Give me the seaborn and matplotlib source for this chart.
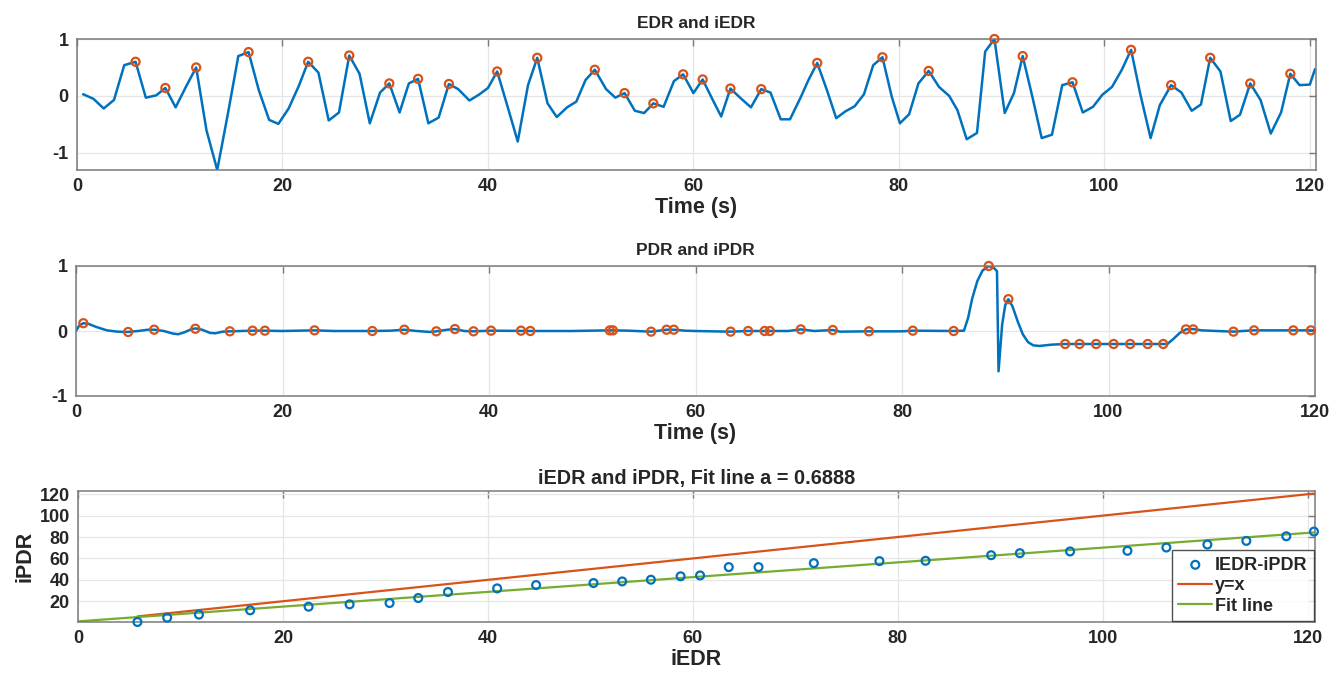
import numpy as np
import matplotlib
matplotlib.use('Agg')
import matplotlib.pyplot as plt
import seaborn as sns

# ============ DATA ============
edr_t = [0.6, 1.6, 2.6, 3.6, 4.6, 5.7, 6.7, 7.7, 8.6, 9.6, 10.6, 11.6, 12.6, 13.65, 14.7,
         15.7, 16.7, 17.7, 18.7, 19.6, 20.6, 21.6, 22.5, 23.5, 24.5, 25.5, 26.5, 27.5, 28.5,
         29.5, 30.4, 31.4, 32.3, 33.2, 34.2, 35.2, 36.2, 37.1, 38.2, 39.1, 40.0, 40.9, 41.9,
         42.9, 43.9, 44.8, 45.8, 46.7, 47.7, 48.6, 49.5, 50.4, 51.5, 52.4, 53.3, 54.3, 55.2,
         56.1, 57.1, 58.1, 59.0, 60.0, 60.9, 61.8, 62.7, 63.6, 64.6, 65.6, 66.6, 67.5, 68.5,
         69.4, 70.4, 71.2, 72.05, 73.0, 73.9, 74.8, 75.7, 76.6, 77.5, 78.4, 79.3, 80.1, 81.0,
         81.9, 82.9, 83.9, 84.9, 85.7, 86.6, 87.6, 88.4, 89.3, 90.3, 91.2, 92.05, 93.0, 93.9,
         94.9, 95.9, 96.9, 97.9, 98.9, 99.8, 100.75, 101.7, 102.6, 103.5, 104.5, 105.4, 106.5,
         107.5, 108.5, 109.4, 110.3, 111.3, 112.3, 113.2, 114.2, 115.2, 116.2, 117.2, 118.1,
         119.0, 120.0, 120.5]
edr_v = [0.03, -0.05, -0.22, -0.07, 0.54, 0.60, -0.03, 0.01, 0.14, -0.20, 0.16, 0.50, -0.60,
         -1.30, -0.30, 0.70, 0.77, 0.10, -0.42, -0.49, -0.22, 0.18, 0.60, 0.41, -0.43, -0.29,
         0.71, 0.39, -0.48, 0.06, 0.22, -0.29, 0.22, 0.30, -0.48, -0.38, 0.21, 0.12, -0.08,
         0.02, 0.14, 0.43, -0.18, -0.80, 0.19, 0.67, -0.13, -0.37, -0.20, -0.10, 0.28, 0.46,
         0.12, -0.03, 0.05, -0.26, -0.30, -0.13, -0.19, 0.26, 0.38, 0.05, 0.29, -0.04, -0.36,
         0.13, -0.04, -0.20, 0.12, 0.06, -0.41, -0.41, -0.04, 0.28, 0.58, 0.10, -0.39, -0.27,
         -0.18, 0.03, 0.54, 0.68, -0.01, -0.48, -0.32, 0.22, 0.44, 0.16, 0.00, -0.25, -0.76,
         -0.65, 0.78, 1.00, -0.30, 0.05, 0.70, -0.02, -0.74, -0.68, 0.19, 0.24, -0.29, -0.19,
         0.02, 0.16, 0.46, 0.81, 0.03, -0.74, -0.16, 0.19, 0.06, -0.26, -0.15, 0.67, 0.43,
         -0.44, -0.33, 0.22, -0.07, -0.66, -0.29, 0.39, 0.19, 0.20, 0.47]

edr_peak_t = [5.7, 8.6, 11.6, 16.7, 22.5, 26.5, 30.4, 33.2, 36.2, 40.9, 44.8, 50.4, 53.3, 56.1,
              59.0, 60.9, 63.6, 66.6, 72.05, 78.4, 82.9, 89.3, 92.05, 96.9, 102.6, 106.5,
              110.3, 114.2, 118.1]
edr_peak_v = [0.60, 0.14, 0.50, 0.77, 0.60, 0.71, 0.22, 0.30, 0.21, 0.43, 0.67, 0.46, 0.05,
              -0.13, 0.38, 0.29, 0.13, 0.12, 0.58, 0.68, 0.44, 1.00, 0.70, 0.24, 0.81, 0.19,
              0.67, 0.22, 0.39]

pdr_t = [0.0, 0.3, 0.7, 1.2, 2.0, 3.0, 4.0, 5.0, 6.0, 7.0, 7.6, 8.5, 9.4, 9.9, 10.5, 11.2,
         11.6, 12.2, 13.0, 13.5, 14.2, 15.0, 16.0, 17.1, 18.3, 20.0, 23.1, 25.0, 28.7, 30.5,
         31.8, 33.0, 34.3, 34.9, 36.0, 36.7, 37.6, 38.5, 40.2, 44.0, 48.0, 51.7, 52.0, 53.5,
         55.7, 57.2, 57.9, 59.0, 60.0, 63.4, 65.1, 67.2, 69.0, 70.2, 71.5, 73.3, 74.0, 76.8,
         80.0, 81.05, 85.0, 86.0, 86.4, 86.8, 87.3, 87.8, 88.4, 88.9, 89.2, 89.35, 89.7, 90.0,
         90.3, 90.7, 91.2, 91.7, 92.2, 92.7, 93.3, 94.5, 95.8, 105.7, 106.3, 106.9, 107.5,
         108.2, 109.0, 110.5, 112.1, 113.0, 114.1, 117.9, 120.0]
pdr_v = [0.0, 0.08, 0.12, 0.11, 0.06, 0.01, -0.01, -0.015, 0.0, 0.02, 0.02, 0.0, -0.04, -0.05,
         -0.02, 0.03, 0.04, 0.02, -0.03, -0.035, -0.01, -0.005, 0.0, 0.005, 0.005, 0.0, 0.01,
         0.0, 0.0, 0.005, 0.02, 0.0, -0.015, -0.005, 0.02, 0.03, 0.0, -0.005, 0.005, 0.0, 0.0,
         0.01, 0.01, 0.005, -0.01, 0.02, 0.02, 0.005, 0.0, -0.01, 0.0, 0.0, 0.0, 0.025, 0.0,
         0.015, -0.01, -0.005, -0.005, 0.005, 0.0, 0.005, 0.2, 0.5, 0.77, 0.93, 1.0, 0.97,
         0.92, -0.62, 0.1, 0.4, 0.49, 0.38, 0.15, -0.05, -0.17, -0.22, -0.23, -0.21, -0.2,
         -0.2, -0.12, -0.03, 0.025, 0.03, 0.01, 0.0, -0.01, 0.0, 0.01, 0.01, 0.01]

pdr_peak_t = [0.71, 5.05, 7.57, 11.56, 14.9, 17.1, 18.3, 23.1, 28.7, 31.8, 34.9, 36.7, 38.5,
              40.2, 43.1, 44.0, 51.7, 52.0, 55.7, 57.2, 57.9, 63.4, 65.1, 66.7, 67.2, 70.2,
              73.3, 76.8, 81.05, 85.0, 88.4, 90.3, 95.8, 97.2, 98.8, 100.5, 102.1, 103.8,
              105.3, 107.5, 108.2, 112.1, 114.1, 117.9, 119.6]
pdr_peak_v = [0.12, -0.015, 0.02, 0.035, -0.005, 0.005, 0.005, 0.01, 0.0, 0.02, -0.005, 0.03,
              -0.005, 0.005, 0.005, 0.0, 0.01, 0.01, -0.01, 0.02, 0.02, -0.01, 0.0, 0.0, 0.0,
              0.025, 0.015, -0.005, 0.005, 0.0, 1.0, 0.49, -0.2, -0.2, -0.2, -0.2, -0.2, -0.2,
              -0.2, 0.025, 0.025, -0.01, 0.01, 0.01, 0.01]

iedr = [5.8, 8.7, 11.8, 16.8, 22.5, 26.5, 30.4, 33.2, 36.1, 40.9, 44.7, 50.3, 53.1, 55.9, 58.8,
        60.7, 63.5, 66.4, 71.8, 78.2, 82.7, 89.1, 91.9, 96.8, 102.4, 106.2, 110.2, 114.0,
        117.9, 120.6]
ipdr = [0.6, 4.7, 7.5, 11.5, 14.9, 17.1, 18.3, 23.0, 28.6, 32.0, 35.1, 37.0, 38.5, 40.1, 43.3,
        44.1, 51.9, 51.9, 55.6, 57.5, 57.8, 63.0, 64.9, 66.5, 67.1, 70.2, 73.0, 76.4, 80.7, 85.1]

fit_a = 0.6888
fit_b = 1.2

# =============== PLOT ====================
sns.set_theme(style='white')
plt.rcParams['font.family'] = ['Liberation Sans', 'DejaVu Sans']
plt.rcParams['font.weight'] = 'bold'
plt.rcParams['axes.unicode_minus'] = False

BLUE = '#0072BD'
ORANGE = '#D95319'
GREEN = '#77AC30'
TXT = '#262626'

W, H = 1334, 678
fig = plt.figure(figsize=(W / 100, H / 100), dpi=100)
ax1 = fig.add_axes([77 / W, 1 - 170 / H, (1316 - 77) / W, 131 / H])
ax2 = fig.add_axes([76 / W, 1 - 396 / H, (1315 - 76) / W, 130 / H])
ax3 = fig.add_axes([78 / W, 1 - 622 / H, (1315 - 78) / W, 131 / H])


def style_axes(ax):
    ax.grid(True, color='#e6e6e6', linewidth=0.9)
    ax.set_axisbelow(True)
    for s in ax.spines.values():
        s.set_color('#7a7a7a')
        s.set_linewidth(1.1)
    ax.tick_params(direction='in', length=5, width=1, colors='#7a7a7a',
                   labelcolor=TXT, labelsize=13, top=True, right=True, pad=6)
    for lab in ax.get_xticklabels() + ax.get_yticklabels():
        lab.set_fontweight('bold')


# EDR
sns.lineplot(x=edr_t, y=edr_v, ax=ax1, color=BLUE, linewidth=1.8, sort=False)
sns.scatterplot(x=edr_peak_t, y=edr_peak_v, ax=ax1, marker='o', s=34, facecolor='none',
                edgecolor=ORANGE, linewidth=1.6, zorder=3, clip_on=False)
ax1.set_xlim(0, 120.6)
ax1.set_ylim(-1.3, 1)
ax1.set_xticks(np.arange(0, 121, 20))
ax1.set_yticks([-1, 0, 1])
ax1.set_title('EDR and iEDR', fontsize=12.5, fontweight='bold', color=TXT, pad=8)
ax1.set_xlabel('Time (s)', fontsize=15.5, fontweight='bold', color=TXT, labelpad=1)
ax1.set_ylabel('')

# PDR
sns.lineplot(x=pdr_t, y=pdr_v, ax=ax2, color=BLUE, linewidth=1.8, sort=False)
sns.scatterplot(x=pdr_peak_t, y=pdr_peak_v, ax=ax2, marker='o', s=34, facecolor='none',
                edgecolor=ORANGE, linewidth=1.6, zorder=3, clip_on=False)
ax2.set_xlim(0, 120)
ax2.set_ylim(-1, 1)
ax2.set_xticks(np.arange(0, 121, 20))
ax2.set_yticks([-1, 0, 1])
ax2.set_title('PDR and iPDR', fontsize=12.5, fontweight='bold', color=TXT, pad=8)
ax2.set_xlabel('Time (s)', fontsize=15.5, fontweight='bold', color=TXT, labelpad=1)
ax2.set_ylabel('')

# iEDR vs iPDR
xs = np.array([iedr[0], iedr[-1]])
xf = np.array([0, iedr[-1]])
sns.scatterplot(x=iedr, y=ipdr, ax=ax3, marker='o', s=32, facecolor='none', edgecolor=BLUE,
                linewidth=1.6, zorder=3, clip_on=False, label='IEDR-iPDR')
sns.lineplot(x=xs, y=xs, ax=ax3, color=ORANGE, linewidth=1.6, label='y=x')
sns.lineplot(x=xf, y=fit_a * xf + fit_b, ax=ax3, color=GREEN, linewidth=1.6, label='Fit line')
ax3.set_xlim(0, 120.7)
ax3.set_ylim(0.6, 123)
ax3.set_xticks(np.arange(0, 121, 20))
ax3.set_yticks(np.arange(20, 121, 20))
ax3.set_title(f'iEDR and iPDR, Fit line a = {fit_a:.4f}', fontsize=14.3, fontweight='bold',
              color=TXT, pad=5)
ax3.set_xlabel('iEDR', fontsize=15.5, fontweight='bold', color=TXT, labelpad=1)
ax3.set_ylabel('iPDR', fontsize=15.5, fontweight='bold', color=TXT, labelpad=3)
leg = ax3.legend(loc='lower right', frameon=True, fancybox=False,
                 borderaxespad=0.05, handlelength=1.9, handletextpad=0.15,
                 labelspacing=0.2, borderpad=0.35, prop={'weight': 'bold', 'size': 13})
leg.get_frame().set_edgecolor('#262626')
leg.get_frame().set_linewidth(1.0)

for ax in (ax1, ax2, ax3):
    style_axes(ax)

plt.savefig('out.png', dpi=100)
